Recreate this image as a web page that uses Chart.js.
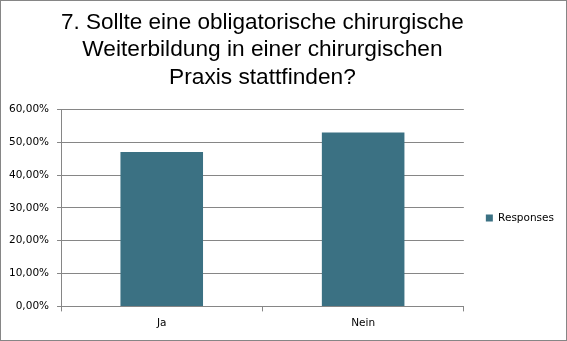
<!DOCTYPE html>
<html>
<head>
<meta charset="utf-8">
<script src="https://cdn.jsdelivr.net/npm/chart.js@4/dist/chart.umd.min.js"></script>
<style>
    html, body { margin: 0; padding: 0; background: #fff; }
    #frame {
        width: 567px; height: 341px;
        box-sizing: border-box;
        border: 1px solid #868686;
        position: relative;
    }
</style>
</head>
<body>
<div id="frame"><canvas id="chart-responses"></canvas></div>
<script>
// Chart data
const titleLines = ['7. Sollte eine obligatorische chirurgische', 'Weiterbildung in einer chirurgischen', 'Praxis stattfinden?'];
const categories = ['Ja', 'Nein'];
const responses = [47.06, 52.94];
const yTicks = [0, 10, 20, 30, 40, 50, 60];
const yTickLabels = ['0,00%', '10,00%', '20,00%', '30,00%', '40,00%', '50,00%', '60,00%'];

const gridColor = '#868686';
const tickFont = { family: 'DejaVu Sans', size: 10.5 };

new Chart(document.getElementById('chart-responses'), {
    type: 'bar',
    data: {
        labels: categories,
        datasets: [{
            label: 'Responses',
            data: responses,
            backgroundColor: '#3b7183',
            barPercentage: 0.41,
            categoryPercentage: 1
        }]
    },
    options: {
        responsive: true,
        maintainAspectRatio: false,
        animation: false,
        layout: { padding: { top: 0, left: 0, right: 2, bottom: 4 } },
        plugins: {
            tooltip: { enabled: false },
            title: {
                display: true,
                text: titleLines,
                fullSize: false,
                color: '#000',
                font: { family: 'Liberation Sans', size: 22.7, weight: 'normal', lineHeight: 1.21 },
                padding: { top: 8, bottom: 18 }
            },
            legend: {
                position: 'right',
                fullSize: false,
                title: { display: true, text: '', font: { size: 10, lineHeight: 1.2 }, padding: { top: 4, bottom: 4 } },
                labels: {
                    boxWidth: 7,
                    boxHeight: 7,
                    padding: 22,
                    color: '#000',
                    font: tickFont
                }
            }
        },
        scales: {
            x: {
                grid: { color: gridColor, offset: true, drawOnChartArea: false, tickLength: 5 },
                border: { color: gridColor },
                ticks: { color: '#000', font: tickFont, padding: 6 }
            },
            y: {
                min: 0,
                max: 60,
                afterBuildTicks: (axis) => { axis.ticks = yTicks.map(v => ({ value: v })); },
                grid: { color: gridColor, tickLength: 4 },
                border: { color: gridColor },
                ticks: {
                    color: '#000',
                    font: tickFont,
                    padding: 8,
                    callback: (v) => yTickLabels[yTicks.indexOf(v)]
                }
            }
        }
    }
});
</script>
</body>
</html>
